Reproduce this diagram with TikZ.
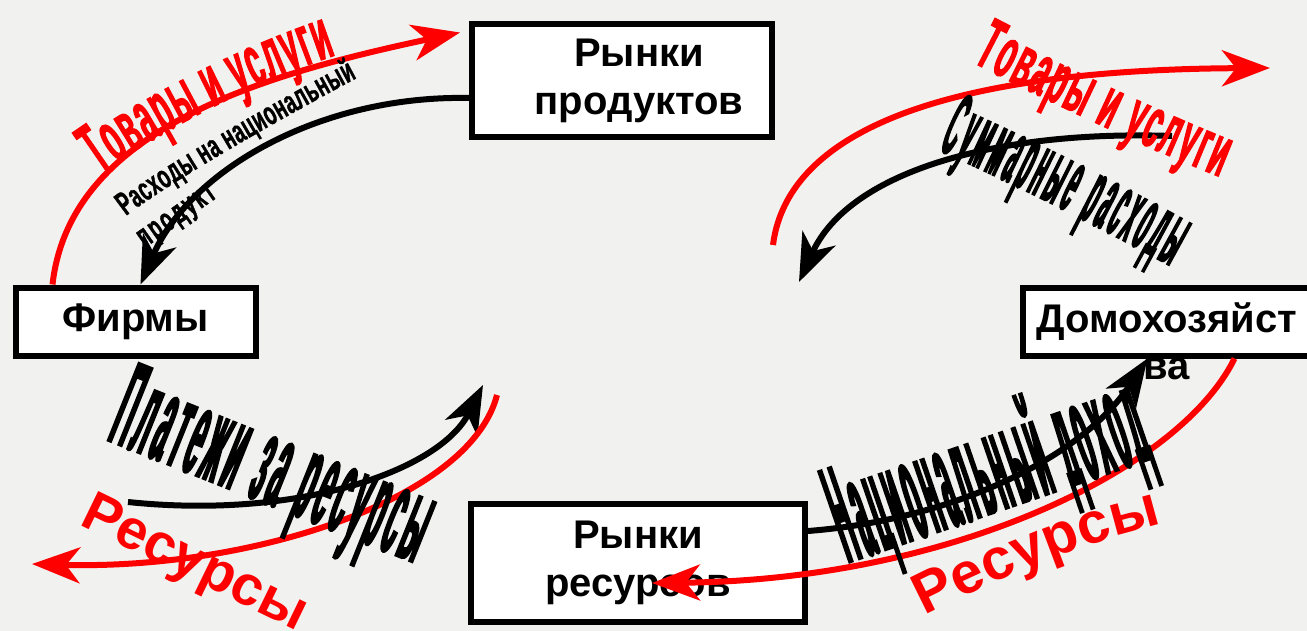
\documentclass[tikz,border=0pt]{standalone}
\usepackage{fontspec}
\setmainfont{Liberation Sans}
\newfontfamily\wsA{Liberation Sans}[FakeStretch=0.4,FakeBold=1.5]
\newfontfamily\wsB{Liberation Sans}[FakeStretch=0.58,FakeBold=1]
\newfontfamily\wsC{Liberation Sans}[FakeStretch=0.21,FakeBold=1.5]
\newfontfamily\wsD{Liberation Sans}[FakeStretch=0.165,FakeBold=1.5]
\usetikzlibrary{arrows.meta,decorations.text}
\definecolor{bg}{RGB}{241,242,239}
\definecolor{ared}{RGB}{255,0,0}
\tikzset{
  box/.style={draw=black, line width=6pt, fill=white, inner sep=0pt,
    font=\bfseries\fontsize{40}{48}\selectfont, align=center},
  flow/.style={line width=6pt, -{Stealth[length=48pt,width=36pt,inset=14pt]}},
  redflow/.style={flow, draw=ared},
  blackflow/.style={flow, draw=black},
  lbl/.style={decorate, decoration={text along path, text align={fit to path}, #1}},
}
\begin{document}
\begin{tikzpicture}[x=1pt,y=-1pt]
\fill[bg] (0,0) rectangle (1307,631);
\useasboundingbox (0,0) rectangle (1307,631);

% boxes
\node[box, minimum width=300pt, minimum height=113pt] (pp) at (622,81)
  {\hspace*{34pt}Рынки\\\hspace*{34pt}продуктов};
\node[box, minimum width=240pt, minimum height=68pt] (fm) at (135.5,321.5) {Фирмы};
\node[box, minimum width=295pt, minimum height=68pt] (hh) at (1170,321.5) {Домохозяйст\hspace*{6pt}};
\node[font=\bfseries\fontsize{40}{48}\selectfont, anchor=base, inner sep=0pt] (hhx) at (1167,379) {ва};
\node[box, minimum width=334pt, minimum height=118pt] (rr) at (638,563)
  {Рынки\\ресурсов};

% free ends
\coordinate (c3s) at (773,245);
\coordinate (c3e) at (1270,68);
\coordinate (c4s) at (1172,136);
\coordinate (c4e) at (799,282);
\coordinate (c5s) at (128,502);
\coordinate (c5e) at (483,385);
\coordinate (c6s) at (497,395);
\coordinate (c6e) at (32,564);
\coordinate (c8e) at (652,583);

% connectors
\draw[redflow] ([xshift=40pt]fm.north west) .. controls (70,130) and (260,75) .. ([xshift=-9pt,yshift=-11pt]pp.north west);
\draw[blackflow] ([yshift=-17pt]pp.west) .. controls (320,95) and (190,170) .. ([xshift=128pt]fm.north west);
\draw[redflow] (c3s) .. controls (785,150) and (900,70) .. (c3e);
\draw[blackflow] (c4s) .. controls (1000,130) and (850,170) .. (c4e);
\draw[blackflow] (c5s) .. controls (300,520) and (440,470) .. (c5e);
\draw[redflow] (c6s) .. controls (470,500) and (250,570) .. (c6e);
\draw[blackflow] ([yshift=32pt]rr.east) .. controls (950,520) and (1080,460) .. ([xshift=128pt]hh.south west);
\draw[redflow] ([xshift=215pt]hh.south west) .. controls (1180,470) and (950,580) .. (c8e);

% labels
\path[lbl={text color=ared, text={|\wsA\bfseries\fontsize{72}{72}\selectfont|Товары и услуги}}]
  (100,174) .. controls (168,126) and (257,82) .. (336,55);
\path[lbl={text color=black, text={|\wsB\bfseries\fontsize{33}{33}\selectfont|Расходы на национальный}}]
  (126,216) .. controls (175,178) and (302,107) .. (357,78);
\path[lbl={text color=black, text={|\wsB\bfseries\fontsize{33}{33}\selectfont|продукт}}]
  (145,248) -- (218,197);
\path[lbl={text color=ared, text={|\wsA\bfseries\fontsize{72}{72}\selectfont|Товары и услуги}}]
  (972,62) .. controls (1045,100) and (1140,145) .. (1220,177);
\path[lbl={text color=black, text={|\wsC\bfseries\fontsize{90}{90}\selectfont|Суммарные расходы}}]
  (938,150) .. controls (1010,182) and (1090,222) .. (1170,266);
\path[lbl={text color=black, text={|\wsC\bfseries\fontsize{122}{122}\selectfont|Платежи за ресурсы}}]
  (106,440) -- (414,563);
\path[lbl={text color=ared, text={|\bfseries\fontsize{56}{56}\selectfont|Ресурсы}}]
  (78,524) -- (298,631);
\path[lbl={text color=black, text={|\wsD\bfseries\fontsize{140}{140}\selectfont|Национальный доход}}]
  (848,563) -- (1154,458);
\path[lbl={text color=ared, text={|\bfseries\fontsize{58}{58}\selectfont|Ресурсы}}]
  (925,616) .. controls (987,584) and (1091,539) .. (1162,524);
\end{tikzpicture}
\end{document}
